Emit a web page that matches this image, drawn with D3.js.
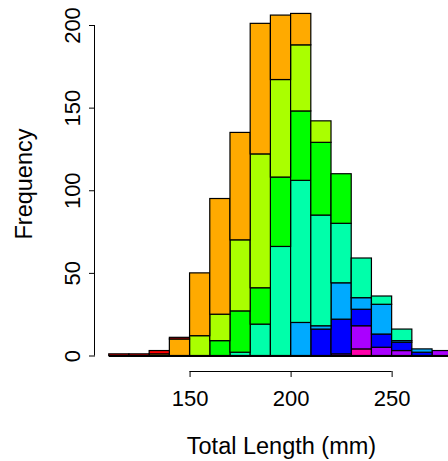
<!DOCTYPE html>
<html>
<head>
<meta charset="utf-8">
<script src="https://cdn.jsdelivr.net/npm/d3@7/dist/d3.min.js"></script>
<style>
  body { margin: 0; background: #fff; }
  svg text { font-family: "Liberation Sans", Arial, Helvetica, sans-serif; }
</style>
</head>
<body>
<div id="container"></div>
<script>
/* CONSTANTS AND GLOBALS */
const width = 448;
const height = 461;

// bin left edges (mm), width 10
const bins = [110, 120, 130, 140, 150, 160, 170, 180, 190, 200, 210, 220, 230, 240, 250, 260, 270];
const binWidth = 10;

// counts per group, stacked bottom -> top
const pink   = [0, 0, 0, 0,  0,  0,  0,  0,  0,  0,  0,  0,  4,  0, 0, 0, 0];
const violet = [0, 0, 0, 0,  0,  0,  0,  0,  0,  0,  0,  1, 14,  5, 3, 0, 3];
const blue   = [0, 0, 0, 0,  0,  0,  0,  0,  0,  0, 16, 21, 10,  8, 5, 2, 0];
const azure  = [0, 0, 0, 0,  0,  0,  0,  0,  0, 20,  2, 22,  7, 18, 1, 2, 0];
const spring = [0, 0, 0, 0,  0,  0,  2, 19, 66, 86, 67, 36, 24,  5, 7, 0, 0];
const green  = [0, 0, 0, 0,  0,  9, 25, 22, 42, 42, 44, 30,  0,  0, 0, 0, 0];
const yellow = [0, 0, 0, 0, 12, 16, 43, 81, 59, 40, 13,  0,  0,  0, 0, 0, 0];
const orange = [0, 0, 1, 10, 38, 70, 65, 79, 39, 19,  0,  0,  0,  0, 0, 0, 0];
const red    = [1, 1, 2, 1,  0,  0,  0,  0,  0,  0,  0,  0,  0,  0, 0, 0, 0];

const series = [
  { key: "pink", values: pink, color: "#FF00AA" },
  { key: "violet", values: violet, color: "#AA00FF" },
  { key: "blue", values: blue, color: "#0000FF" },
  { key: "azure", values: azure, color: "#00AAFF" },
  { key: "spring", values: spring, color: "#00FFAA" },
  { key: "green", values: green, color: "#00FF00" },
  { key: "yellow", values: yellow, color: "#AAFF00" },
  { key: "orange", values: orange, color: "#FFAA00" },
  { key: "red", values: red, color: "#FF0000" }
];

const xTicks = [150, 200, 250];
const yTicks = [0, 50, 100, 150, 200];

const rows = bins.map((b, i) => {
  const row = { bin: b };
  series.forEach(s => row[s.key] = s.values[i]);
  return row;
});

const svg = d3.select("#container")
  .append("svg")
  .attr("width", width)
  .attr("height", height);

const xScale = d3.scaleLinear()
  .domain([103.2, 286.8])
  .range([95, 466]);

const yScale = d3.scaleLinear()
  .domain([0, 200])
  .range([355.5, 25]);

const stacked = d3.stack().keys(series.map(s => s.key))(rows);

// bars
stacked.forEach((layer, li) => {
  svg.append("g")
    .selectAll("rect")
    .data(layer.filter(d => d[1] > d[0]))
    .join("rect")
    .attr("x", d => xScale(d.data.bin))
    .attr("y", d => yScale(d[1]))
    .attr("width", xScale(binWidth) - xScale(0))
    .attr("height", d => yScale(d[0]) - yScale(d[1]))
    .attr("fill", series[li].color)
    .attr("stroke", "#000")
    .attr("stroke-width", 1.2);
});

// zero-height segments along the base
svg.append("line")
  .attr("x1", xScale(bins[0]))
  .attr("x2", xScale(bins[bins.length - 1] + binWidth))
  .attr("y1", yScale(0) + 0.5)
  .attr("y2", yScale(0) + 0.5)
  .attr("stroke", "#000")
  .attr("stroke-width", 2);

// x axis
const xAxis = d3.axisBottom(xScale).tickValues(xTicks).tickSize(6);
const gx = svg.append("g")
  .attr("transform", `translate(0, 371)`)
  .call(xAxis);
gx.select(".domain").attr("d", `M${xScale(150)},0.5H${xScale(250)}`);
gx.selectAll("text")
  .attr("font-size", 22)
  .attr("fill", "#000")
  .attr("font-family", "Liberation Sans, Arial, sans-serif")
  .attr("dy", null)
  .attr("y", 35);

// y axis
const yAxis = d3.axisLeft(yScale).tickValues(yTicks).tickSize(6);
const gy = svg.append("g")
  .attr("transform", `translate(95, 0)`)
  .call(yAxis);
gy.select(".domain").attr("d", `M-0.5,${yScale(0)}V${yScale(200)}`);
gy.selectAll("text")
  .attr("font-size", 22)
  .attr("fill", "#000")
  .attr("font-family", "Liberation Sans, Arial, sans-serif")
  .attr("x", null)
  .attr("dy", null)
  .attr("text-anchor", "middle")
  .attr("transform", "translate(-15,0) rotate(-90)");

// labels
svg.append("text")
  .attr("x", 281.5)
  .attr("y", 454)
  .attr("text-anchor", "middle")
  .attr("font-size", 23.5)
  .text("Total Length (mm)");

svg.append("text")
  .attr("transform", "translate(31.5,184) rotate(-90)")
  .attr("text-anchor", "middle")
  .attr("font-size", 23.5)
  .text("Frequency");
</script>
</body>
</html>
